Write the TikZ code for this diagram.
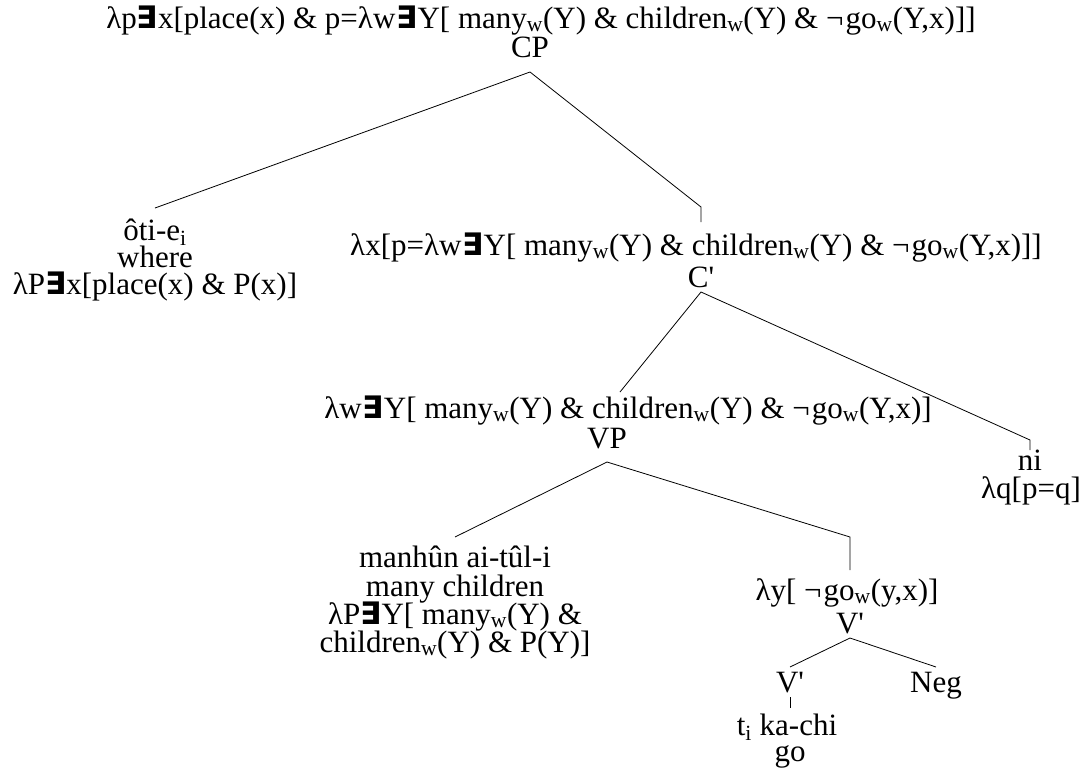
\documentclass[tikz,border=0pt]{standalone}
\usepackage{fontspec}
\setmainfont{Liberation Serif}[Ligatures=TeXOff]
\newfontfamily\exfont{DejaVu Sans}
\newcommand{\Ex}{{\exfont\bfseries ∃}}
\newcommand{\Sb}[1]{\textsubscript{#1}}
\newcommand{\Neg}{¬\kern2pt}
\usetikzlibrary{calc}
\begin{document}
\begin{tikzpicture}[x=1pt, y=-1pt,
  lbl/.style={anchor=base, inner sep=0pt, font=\fontsize{31}{31}\selectfont},
  edge/.style={draw, line width=0.8pt, line join=miter}]
\useasboundingbox (0,0) rectangle (1090,769);

% root
\node[lbl] (top) at (541,28) {λp\Ex x[place(x) \& p=λw\kern1pt\Ex Y[ many\Sb{w}(Y) \& children\Sb{w}(Y) \& \Neg go\Sb{w}(Y,x)]]};
\node[lbl] (cp) at (530,57) {CP};

% wh-phrase
\node[lbl] (oti) at (155,240) {ôti-e\Sb{i}};
\node[lbl] (where) at (155,267) {where};
\node[lbl] (otisem) at (155,294) {λP\Ex x[place(x) \& P(x)]};

% C-bar
\node[lbl] (lx) at (696,255) {λx[p=λw\kern1pt\Ex Y[ many\Sb{w}(Y) \& children\Sb{w}(Y) \& \Neg go\Sb{w}(Y,x)]]};
\node[lbl] (cbar) at (701,287) {C'};

% VP
\node[lbl] (vpsem) at (628,418) {λw\kern1pt\Ex Y[ many\Sb{w}(Y) \& children\Sb{w}(Y) \& \Neg go\Sb{w}(Y,x)]};
\node[lbl] (vp) at (607,448) {VP};

% complementizer
\node[lbl] (ni) at (1030,470) {ni};
\node[lbl] (niq) at (1031,498) {λq[p=q]};

% subject
\node[lbl] (man1) at (455,567) {manhûn ai-tûl-i};
\node[lbl] (man2) at (455,596) {many children};
\node[lbl] (man3) at (455,624) {λP\Ex Y[ many\Sb{w}(Y) \&};
\node[lbl] (man4) at (455,652) {children\Sb{w}(Y) \& P(Y)]};

% V-bar
\node[lbl] (ly) at (847,600) {λy[ \Neg go\Sb{w}(y,x)]};
\node[lbl] (vbar) at (850,633) {V'};
\node[lbl] (vbarb) at (790,692) {V'};
\node[lbl] (neg) at (936,692) {Neg};
\node[lbl] (tka) at (787,735) {t\Sb{i} ka-chi};
\node[lbl] (go) at (790,761) {go};

% branches
\draw[edge] ([yshift=32pt]oti.base) -- ([yshift=-15pt]cp.base)
  -- ([yshift=80pt]cbar.base) -- ([yshift=65pt]cbar.base);
\draw[edge] ([xshift=-8pt,yshift=26pt]vpsem.base) -- ([yshift=-5pt]cbar.base)
  -- ([yshift=30pt]ni.base) -- ([yshift=20pt]ni.base);
\draw[edge] ([yshift=30pt]man1.base) -- ([yshift=-14pt]vp.base)
  -- ([yshift=96pt]vbar.base) -- ([yshift=63pt]vbar.base);
\draw[edge] ([yshift=25pt]vbarb.base) -- ([yshift=-5pt]vbar.base)
  -- ([yshift=25pt]neg.base);
\draw[edge] ([yshift=-5pt]vbarb.base) -- ($(vbarb.base |- tka.base)+(0,-27)$);
\end{tikzpicture}
\end{document}
